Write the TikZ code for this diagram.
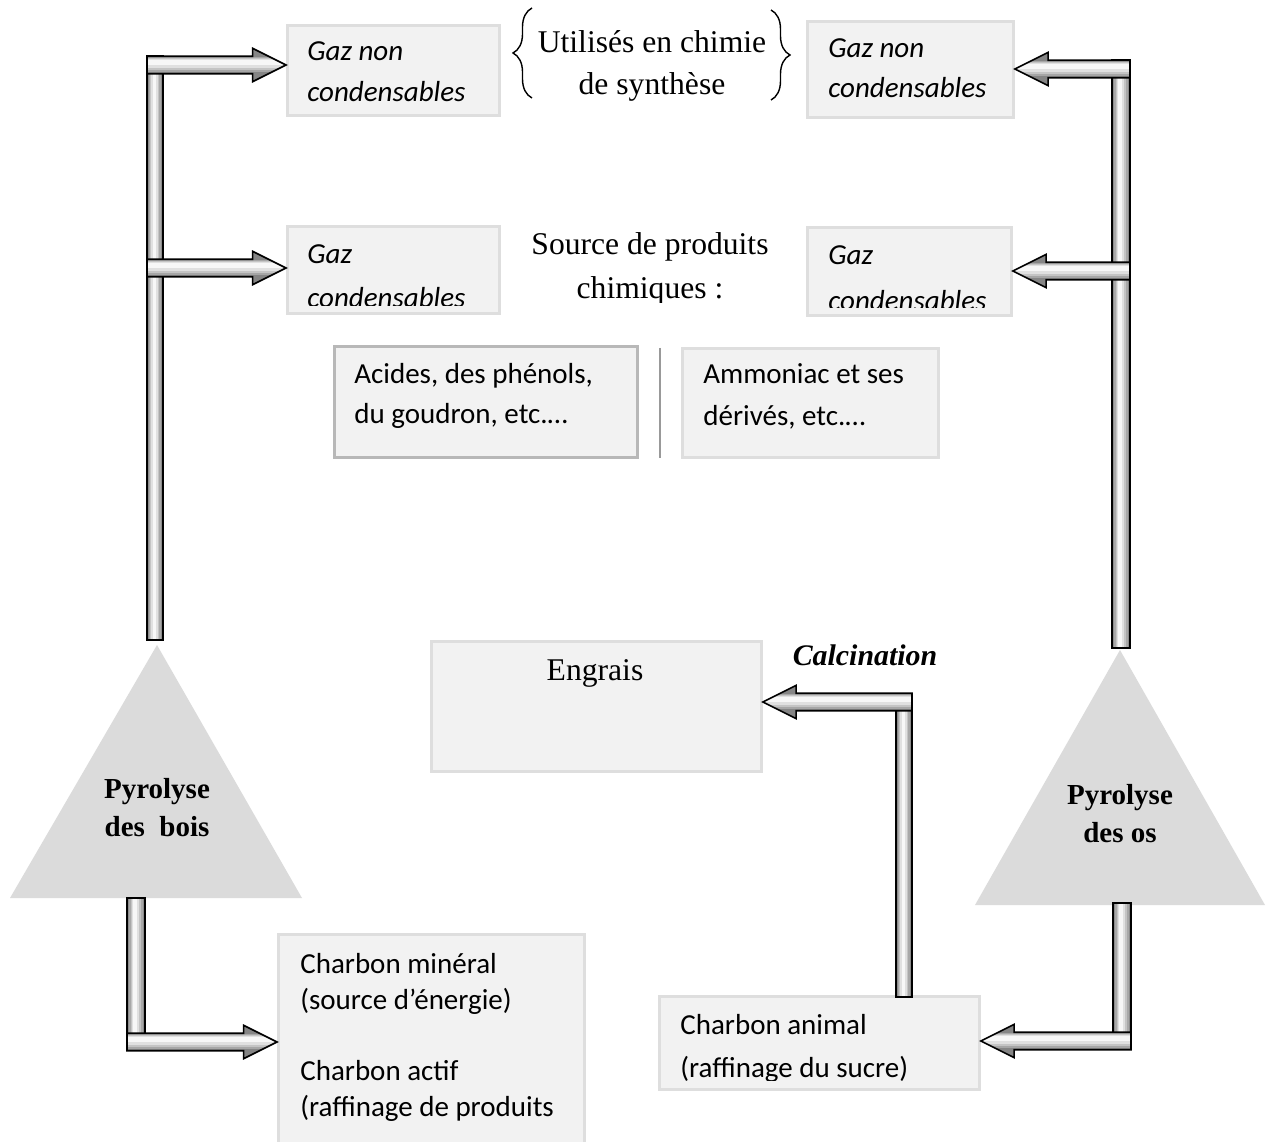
\documentclass[tikz,border=0pt]{standalone}
\usepackage{fontspec}
\setmainfont{Liberation Serif}
\newfontfamily\calibri{Carlito}
\usetikzlibrary{calc,decorations.pathreplacing}

\tikzset{
  box/.style 2 args={draw=black!13, line width=1.6pt, fill=black!5, anchor=north west,
    inner sep=0pt, minimum width=#1*0.02cm, minimum height=#2*0.02cm},
  cal/.style={anchor=base west, inner sep=0pt, font=\calibri\fontsize{16.5}{20}\selectfont},
  cali/.style={anchor=base west, inner sep=0pt, font=\calibri\itshape\fontsize{16.5}{20}\selectfont},
  ser/.style={anchor=base, inner sep=0pt, font=\fontsize{18}{24}\selectfont},
  serb/.style={anchor=base, inner sep=0pt, font=\bfseries\fontsize{16.5}{20}\selectfont},
  tri/.style={fill=black!14},
  pipev/.style={draw=black, line width=0.9pt, fill=black!45, path picture={
    \foreach \a/\b/\c in {0.1/0.88/34, 0.2/0.78/23, 0.28/0.66/12, 0.36/0.56/3}
      \fill[black!\c] ($(path picture bounding box.south west)!\a!(path picture bounding box.south east)$)
        rectangle ($(path picture bounding box.north west)!\b!(path picture bounding box.north east)$);}},
  pipeh/.style={draw=black, line width=0.9pt, fill=black!48, path picture={
    \foreach \a/\b/\c in {0.28/0.74/35, 0.34/0.72/23, 0.42/0.69/12, 0.5/0.66/3}
      \fill[black!\c] ($(path picture bounding box.south west)!\a!(path picture bounding box.north west)$)
        rectangle ($(path picture bounding box.south east)!\b!(path picture bounding box.north east)$);}},
  pipeR/.style={pipeh, to path={let \p1=(\tikztostart), \p2=(\tikztotarget) in
    (\x1,\y1+5pt) -- (\x2-19pt,\y1+5pt) -- (\x2-19pt,\y1+9.5pt) -- (\x2,\y1)
    -- (\x2-19pt,\y1-9.5pt) -- (\x2-19pt,\y1-5pt) -- (\x1,\y1-5pt) -- cycle}},
  pipeL/.style={pipeh, to path={let \p1=(\tikztostart), \p2=(\tikztotarget) in
    (\x1,\y1+5pt) -- (\x2+19pt,\y1+5pt) -- (\x2+19pt,\y1+9.5pt) -- (\x2,\y1)
    -- (\x2+19pt,\y1-9.5pt) -- (\x2+19pt,\y1-5pt) -- (\x1,\y1-5pt) -- cycle}},
  brace/.style={decorate, decoration={brace, amplitude=0.38cm}, line width=0.8pt},
}

\begin{document}
\begin{tikzpicture}[x=0.02cm, y=-0.02cm]
  \useasboundingbox (0,0) rectangle (1269,1142);

  % boxes
  \node[box={212}{90}] (gncL) at (286,24) {};
  \node[box={212}{87}] (gcL) at (286,225) {};
  \node[box={206}{96}] (gncR) at (806,20) {};
  \node[box={204}{88}] (gcR) at (806,226) {};
  \node[box={303}{111}, draw=black!28] (acides) at (333,345) {};
  \node[box={256}{109}] (ammon) at (681,347) {};
  \node[box={330}{130}] (engrais) at (430,640) {};
  \node[box={306}{230}] (chmin) at (277,933) {};
  \node[box={320}{93}] (chanim) at (658,995) {};

  \node[cali] (gncL1) at (307,61) {Gaz non};
  \node[cali] (gncL2) at (307,102) {condensables};
  \node[cali] (gcL1) at (307,264) {Gaz};
  \node[cali] (gncR1) at (828,58) {Gaz non};
  \node[cali] (gncR2) at (828,98) {condensables};
  \node[cali] (gcR1) at (828,265) {Gaz};
  \begin{scope}
    \clip (gcL.north west) rectangle ([yshift=5.5pt]gcL.south east);
    \node[cali] (gcL2) at (307,308) {condensables};
  \end{scope}
  \begin{scope}
    \clip (gcR.north west) rectangle ([yshift=5.5pt]gcR.south east);
    \node[cali] (gcR2) at (828,311) {condensables};
  \end{scope}

  \node[cal] (acides1) at (354,384) {Acides, des phénols,};
  \node[cal] (acides2) at (354,424) {du goudron, etc.…};
  \node[cal] (ammon1) at (703,384) {Ammoniac et ses};
  \node[cal] (ammon2) at (703,426) {dérivés, etc.…};
  \draw[black!40, line width=1.7pt] (660,348) -- (660,458);

  \node[cal] (chmin1) at (300,973) {Charbon minéral};
  \node[cal] (chmin2) at (300,1009) {(source d’énergie)};
  \node[cal] (chmin3) at (300,1080) {Charbon actif};
  \node[cal] (chmin4) at (300,1116) {(raffinage de produits};
  \node[cal] (chanim1) at (680,1034) {Charbon animal};
  \begin{scope}
    \clip (chanim.north west) rectangle ([yshift=6pt]chanim.south east);
    \node[cal] (chanim2) at (680,1077) {(raffinage du sucre)};
  \end{scope}

  \node[ser] (util1) at (652,53) {Utilisés en chimie};
  \node[ser] (util2) at (652,95) {de synthèse};
  \draw[brace] (532,98) -- (532,8);
  \draw[brace] (771,10) -- (771,100);
  \node[ser] (source1) at (650,255) {Source de produits};
  \begin{scope}
    \clip (450,270) rectangle (850,303);
    \node[ser] (source2) at (650,299) {chimiques :};
  \end{scope}
  \node[ser] (engrais1) at (595,680) {Engrais};
  \node[anchor=base, inner sep=0pt, font=\bfseries\itshape\fontsize{17}{20}\selectfont] (calc) at (865,665) {Calcination};

  % triangles
  \path[tri] (10,898) -- (157,645) -- (302,898) -- cycle;
  \path[tri] (975,905) -- (1120,650) -- (1265,905) -- cycle;
  \node[serb] (bois1) at (157,798) {Pyrolyse};
  \node[serb] (bois2) at (157,836) {des\ \ bois};
  \node[serb] (os1) at (1120,804) {Pyrolyse};
  \node[serb] (os2) at (1120,842) {des os};

  % pipes
  \coordinate (lA) at (147,65);
  \coordinate (lB) at (147,268);
  \coordinate (rA) at (1130,69);
  \coordinate (rB) at (1130,271);
  \coordinate (mA) at (912,702);
  \coordinate (bA) at (127,1042);
  \coordinate (oA) at (1131,1041);
  \coordinate (lAt) at (gncL.west |- lA);
  \coordinate (lBt) at (gcL.west |- lB);
  \coordinate (rAt) at (gncR.east |- rA);
  \coordinate (rBt) at (gcR.east |- rB);
  \coordinate (mAt) at (engrais.east |- mA);
  \coordinate (bAt) at (chmin.west |- bA);
  \coordinate (oAt) at (chanim.east |- oA);

  \draw[pipev] (147,56) rectangle (163,640);
  \draw[pipev] (1112,60) rectangle (1130,648);
  \draw[pipev] (896,702) rectangle (912,997);
  \draw[pipev] (127,898) rectangle (145,1042);
  \draw[pipev] (1113,903) rectangle (1131,1041);

  \draw[pipeR] (lA) to (lAt);
  \draw[pipeR] (lB) to (lBt);
  \draw[pipeL] (rA) to (rAt);
  \draw[pipeL] (rB) to (rBt);
  \draw[pipeL] (mA) to (mAt);
  \draw[pipeR] (bA) to (bAt);
  \draw[pipeL] (oA) to (oAt);
\end{tikzpicture}
\end{document}
